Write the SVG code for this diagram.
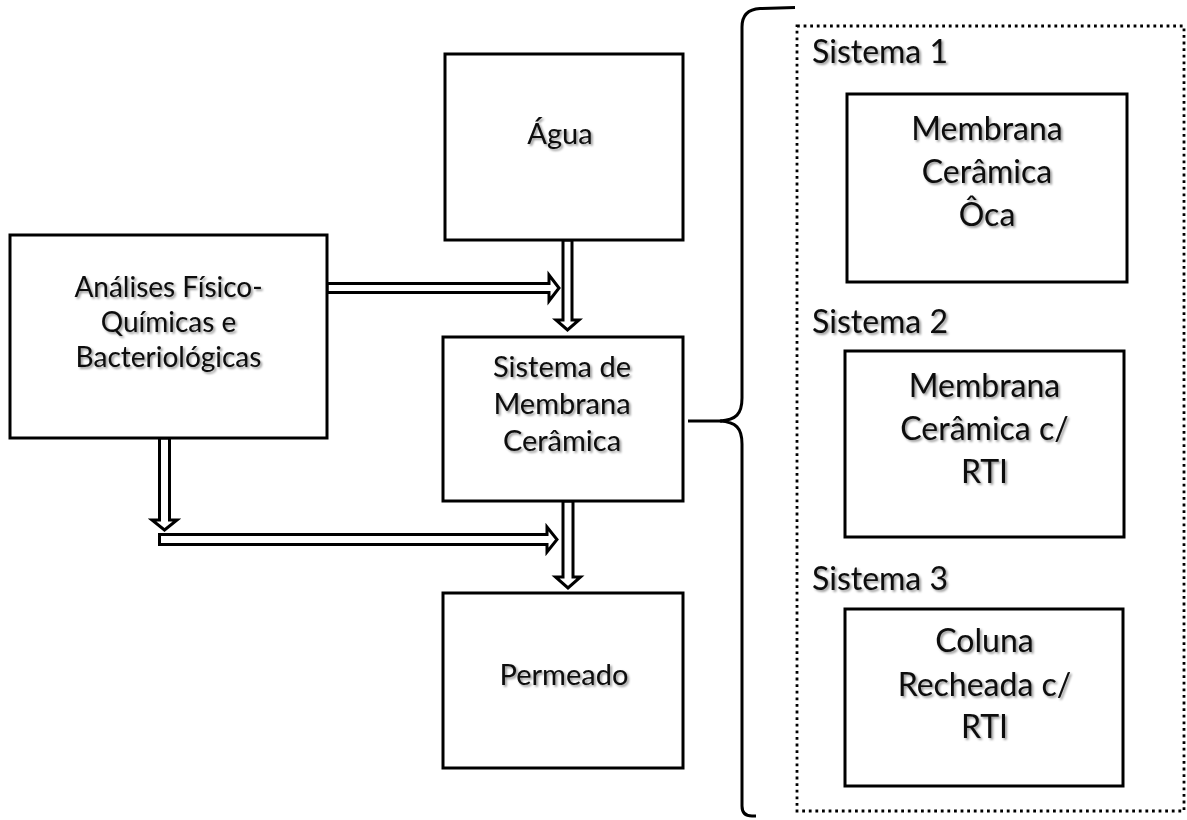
<svg xmlns="http://www.w3.org/2000/svg" width="1187" height="820" viewBox="0 0 1187 820">
  <defs>
    <filter id="txtShadow" x="-10%" y="-30%" width="120%" height="160%">
      <feDropShadow dx="1.8" dy="1.8" stdDeviation="1.2" flood-color="#000" flood-opacity="0.42"/>
    </filter>
    <style>
      .box { fill: #fff; stroke: #000; stroke-width: 3; }
      .lbl { font-family: Lato, "Liberation Sans", sans-serif; fill: #0a0a0a; text-anchor: middle; filter: url(#txtShadow); }
      .mid { font-size: 29px; }
      .left { font-size: 28px; }
      .big { font-size: 32px; }
      .sys { font-family: Lato, "Liberation Sans", sans-serif; font-size: 32px; fill: #0a0a0a; filter: url(#txtShadow); }
      .arrow { fill: #fff; stroke: #000; stroke-width: 3; stroke-linejoin: miter; }
      .brace { fill: none; stroke: #000; stroke-width: 3; stroke-linecap: butt; }
      .dotted { fill: none; stroke: #000; stroke-width: 2.8; stroke-dasharray: 2.8 3.8; }
    </style>
  </defs>

  <rect width="1187" height="820" fill="#fff"/>

  <!-- hollow block arrows between the process steps -->
  <g id="connectors">
    <!-- analyses to membrane system -->
    <polygon class="arrow" points="327,283.5 549,283.5 549,275 559,288 549,301 549,292.5 327,292.5"/>
    <!-- water down to membrane system -->
    <polygon class="arrow" points="563,240 563,320 556,320 567.5,330 579,320 572,320 572,240"/>
    <!-- analyses down to the lower line -->
    <polygon class="arrow" points="159.5,438 159.5,520 152,520 164.5,530 177,520 169.5,520 169.5,438"/>
    <!-- lower line towards permeate -->
    <polygon class="arrow" points="159.5,534.5 547,534.5 547,527 557,539.5 547,552 547,544.5 159.5,544.5"/>
    <!-- membrane system down to permeate -->
    <polygon class="arrow" points="563,501 563,577 555.5,577 568,588 580.5,577 573,577 573,501"/>
    <!-- curly brace grouping the three systems -->
    <path class="brace" d="M 795 7.5 L 760 8.5 Q 742 9.5 742 27 L 742 398 C 742 414 736 420 720 421 C 736 422 742 428 742 444 L 742 806 Q 742 816 752 816 L 756 816"/>
    <line class="brace" x1="688" y1="421" x2="722" y2="421"/>
  </g>

  <g id="node-agua">
    <rect class="box" x="445" y="54" width="238" height="186"/>
    <text class="lbl mid" x="560" y="144">Água</text>
  </g>

  <g id="node-analises">
    <rect class="box" x="10" y="235" width="317" height="203"/>
    <text class="lbl left" x="168.5" y="297">Análises Físico-</text>
    <text class="lbl left" x="168.5" y="332">Químicas e</text>
    <text class="lbl left" x="168.5" y="367">Bacteriológicas</text>
  </g>

  <g id="node-sistema">
    <rect class="box" x="443" y="337" width="240" height="164"/>
    <text class="lbl mid" x="562" y="377">Sistema de</text>
    <text class="lbl mid" x="562" y="414">Membrana</text>
    <text class="lbl mid" x="562" y="451">Cerâmica</text>
  </g>

  <g id="node-permeado">
    <rect class="box" x="443" y="593" width="240" height="175"/>
    <text class="lbl mid" x="564" y="685">Permeado</text>
  </g>

  <g id="group-sistemas">
    <rect class="dotted" x="797" y="26" width="387" height="785"/>
  </g>

  <g id="sistema-1">
    <text class="sys" x="812" y="63">Sistema 1</text>
    <rect class="box" x="847" y="94" width="280" height="188"/>
    <text class="lbl big" x="987" y="140">Membrana</text>
    <text class="lbl big" x="987" y="183">Cerâmica</text>
    <text class="lbl big" x="987" y="226">Ôca</text>
  </g>

  <g id="sistema-2">
    <text class="sys" x="812" y="333">Sistema 2</text>
    <rect class="box" x="845" y="351" width="279" height="186"/>
    <text class="lbl big" x="984.5" y="397">Membrana</text>
    <text class="lbl big" x="984.5" y="440">Cerâmica c/</text>
    <text class="lbl big" x="984.5" y="483">RTI</text>
  </g>

  <g id="sistema-3">
    <text class="sys" x="812" y="590">Sistema 3</text>
    <rect class="box" x="845" y="609" width="278" height="177"/>
    <text class="lbl big" x="984.5" y="652">Coluna</text>
    <text class="lbl big" x="984.5" y="696">Recheada c/</text>
    <text class="lbl big" x="984.5" y="738">RTI</text>
  </g>
</svg>
